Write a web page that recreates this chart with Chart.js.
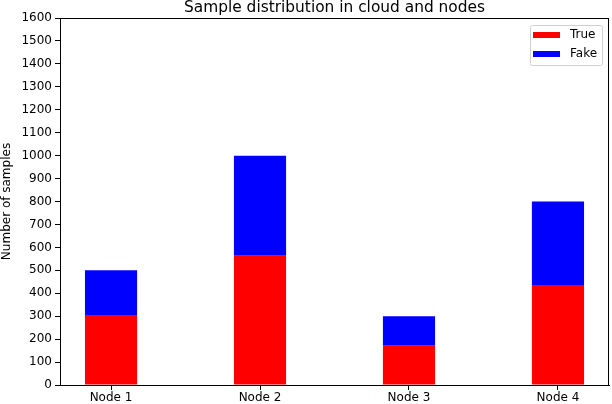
<!DOCTYPE html>
<html>
<head>
<meta charset="utf-8">
<script src="https://cdn.jsdelivr.net/npm/chart.js@4"></script>
<style>
  html, body { margin: 0; padding: 0; background: #fff; }
  #wrap { width: 612px; height: 404px; }
</style>
</head>
<body>
<div id="wrap"><canvas id="chart1" width="612" height="404"></canvas></div>
<script>
var nodes = ["Node 1", "Node 2", "Node 3", "Node 4"];
var trueCounts = [305, 563, 171, 436];
var fakeCounts = [195, 437, 129, 364];
var yTicks = [0,100,200,300,400,500,600,700,800,900,1000,1100,1200,1300,1400,1500,1600];
var chartTitle = 'Sample distribution in cloud and nodes';

var font = "'DejaVu Sans', sans-serif";

function toPoints(arr) {
    return arr.map(function (v, i) { return { x: i, y: v }; });
}

// frame around plot area, title centred on the axes, legend inside top right
var framePlugin = {
    id: 'frame',
    afterDraw: function (chart) {
        var ctx = chart.ctx, a = chart.chartArea;
        ctx.save();
        ctx.strokeStyle = '#000';
        ctx.lineWidth = 1;
        ctx.strokeRect(a.left + 0.5, a.top + 0.5, a.right - a.left - 1, a.bottom - a.top);

        ctx.fillStyle = '#000';
        ctx.font = '15.4px ' + font;
        ctx.textAlign = 'center';
        ctx.textBaseline = 'alphabetic';
        ctx.fillText(chartTitle, (a.left + a.right) / 2, 12);

        var ds = chart.data.datasets;
        var bx = a.right - 79, by = a.top + 7, bw = 72, bh = 40;
        ctx.fillStyle = 'rgba(255,255,255,0.8)';
        ctx.strokeStyle = '#d0d0d0';
        ctx.beginPath();
        ctx.roundRect(bx + 0.5, by + 0.5, bw, bh, 2);
        ctx.fill();
        ctx.stroke();
        ctx.font = '12px ' + font;
        ctx.textAlign = 'left';
        ctx.textBaseline = 'middle';
        ds.forEach(function (d, i) {
            var cy = by + 10 + i * 19;
            ctx.fillStyle = d.backgroundColor;
            ctx.fillRect(bx + 3, cy - 3, 27, 6);
            ctx.fillStyle = '#000';
            ctx.fillText(d.label, bx + 40, cy);
        });
        ctx.restore();
    }
};

var config = {
    type: 'bar',
    data: {
        datasets: [
            { label: 'True', data: toPoints(trueCounts), backgroundColor: '#ff0000', borderWidth: 0 },
            { label: 'Fake', data: toPoints(fakeCounts), backgroundColor: '#0000ff', borderWidth: 0 }
        ]
    },
    options: {
        responsive: false,
        animation: false,
        layout: { padding: { top: 18, right: 3, left: 0, bottom: 0 } },
        datasets: { bar: { barPercentage: 0.35, categoryPercentage: 1.0 } },
        plugins: {
            legend: { display: false },
            tooltip: { enabled: false },
            title: { display: false }
        },
        scales: {
            x: {
                type: 'linear',
                stacked: true,
                offset: false,
                min: -0.3425,
                max: 3.3425,
                grid: { display: true, offset: false, drawOnChartArea: false, drawTicks: true, tickLength: 5, color: '#000' },
                border: { display: true, color: '#000' },
                afterBuildTicks: function (scale) {
                    scale.ticks = nodes.map(function (n, i) { return { value: i }; });
                },
                ticks: {
                    color: '#000',
                    font: { family: font, size: 12 },
                    padding: 1,
                    maxRotation: 0,
                    callback: function (v) { return nodes[v]; }
                },
                afterFit: function (scale) { scale.height = 19; }
            },
            y: {
                stacked: true,
                min: 0,
                max: 1600,
                grid: { display: true, drawOnChartArea: false, drawTicks: true, tickLength: 5, color: '#000' },
                border: { display: true, color: '#000' },
                afterBuildTicks: function (scale) {
                    scale.ticks = yTicks.map(function (v) { return { value: v }; });
                },
                ticks: {
                    color: '#000',
                    font: { family: font, size: 12 },
                    padding: 3,
                    callback: function (v) { return String(v); }
                },
                title: {
                    display: true,
                    text: 'Number of samples',
                    color: '#000',
                    font: { family: font, size: 12 },
                    padding: 0
                },
                afterFit: function (scale) { scale.width = 60; }
            }
        }
    },
    plugins: [framePlugin]
};

var myChart = new Chart(document.getElementById('chart1'), config);
</script>
</body>
</html>
